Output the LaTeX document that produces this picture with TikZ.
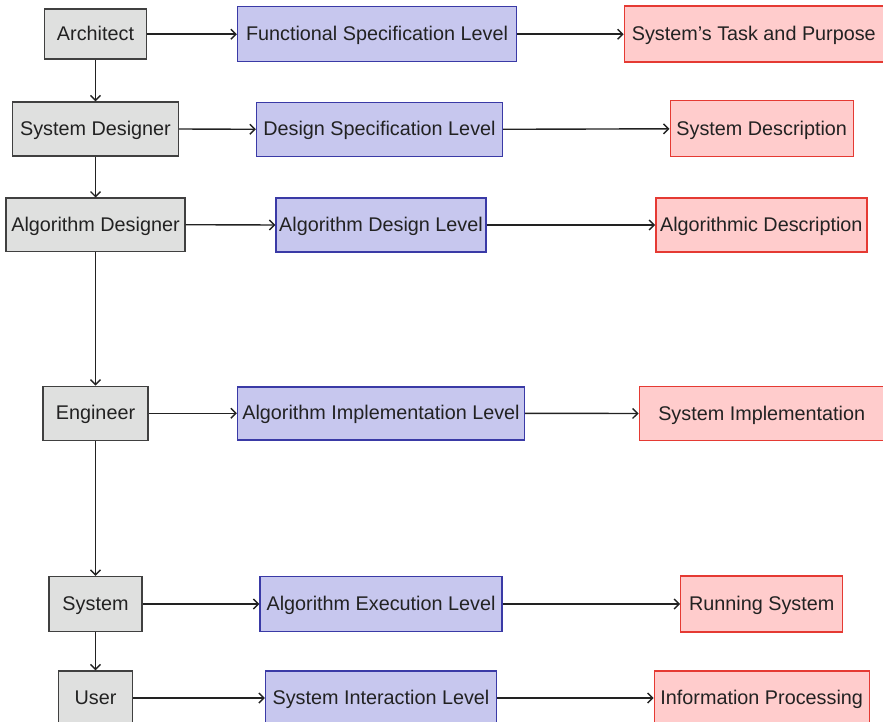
\documentclass[tikz,border=0pt]{standalone}
\usepackage{fontspec}
\setmainfont{Liberation Sans}
\usetikzlibrary{arrows.meta}
\definecolor{txt}{HTML}{222222}
\definecolor{grayfill}{HTML}{DFE0DF}
\definecolor{graydraw}{HTML}{404040}
\definecolor{bluefill}{HTML}{C7C7EE}
\definecolor{bluedraw}{HTML}{3A3AA6}
\definecolor{redfill}{HTML}{FFCCCC}
\definecolor{reddraw}{HTML}{E53A33}
\tikzset{
  box/.style={rectangle, inner sep=0pt, line width=1.4pt, text=txt,
    font=\fontsize{19.8pt}{22pt}\selectfont, text height=15pt, text depth=2pt, align=center},
  agent/.style={box, fill=grayfill, draw=graydraw},
  level/.style={box, fill=bluefill, draw=bluedraw},
  result/.style={box, fill=redfill, draw=reddraw},
  conn/.style={line width=1.4pt, draw=txt, -{Straight Barb[length=5pt,width=10pt]}}
}
\begin{document}
\begin{tikzpicture}[x=1pt,y=1pt]
\useasboundingbox (0,0) rectangle (883,-722);
% left column
\node[agent, minimum width=102pt, minimum height=50pt] (a1) at (95.5,-34.2) {Architect};
\node[agent, minimum width=166pt, minimum height=54pt] (a2) at (95.5,-129) {System Designer};
\node[agent, minimum width=179pt, minimum height=53pt] (a3) at (95.5,-224.7) {Algorithm Designer};
\node[agent, minimum width=105pt, minimum height=54pt] (a4) at (95.5,-413.3) {Engineer};
\node[agent, minimum width=93pt, minimum height=55pt] (a5) at (95.5,-604) {System};
\node[agent, minimum width=74pt, minimum height=54pt] (a6) at (95.5,-698) {User};
% middle column
\node[level, minimum width=279pt, minimum height=55pt] (b1) at (377,-34.2) {Functional Specification Level};
\node[level, minimum width=246pt, minimum height=54pt] (b2) at (379.5,-129.3) {Design Specification Level};
\node[level, minimum width=210pt, minimum height=54pt] (b3) at (381,-225) {Algorithm Design Level};
\node[level, minimum width=287pt, minimum height=53pt] (b4) at (381,-413.3) {Algorithm Implementation Level};
\node[level, minimum width=242pt, minimum height=55pt] (b5) at (381,-604) {Algorithm Execution Level};
\node[level, minimum width=231pt, minimum height=54pt] (b6) at (381,-698) {System Interaction Level};
% right column
\node[result, minimum width=259pt, minimum height=56pt] (c1) at (753.8,-34.2) {System’s Task and Purpose};
\node[result, minimum width=183pt, minimum height=56pt] (c2) at (761.7,-128.8) {System Description};
\node[result, minimum width=211pt, minimum height=54pt] (c3) at (761.3,-225) {Algorithmic Description};
\node[result, minimum width=245pt, minimum height=54pt] (c4) at (761.7,-413.5) {System Implementation};
\node[result, minimum width=162pt, minimum height=56pt] (c5) at (761.7,-604) {Running System};
\node[result, minimum width=215pt, minimum height=54pt] (c6) at (761.7,-698) {Information Processing};
% connectors
\foreach \i in {1,...,6} {
  \draw[conn] (a\i.east) -- (b\i.west);
  \draw[conn] (b\i.east) -- (c\i.west);
}
\draw[conn] (a1.south) -- (a2.north);
\draw[conn] (a2.south) -- (a3.north);
\draw[conn] (a3.south) -- (a4.north);
\draw[conn] (a4.south) -- (a5.north);
\draw[conn] (a5.south) -- (a6.north);
\end{tikzpicture}
\end{document}
